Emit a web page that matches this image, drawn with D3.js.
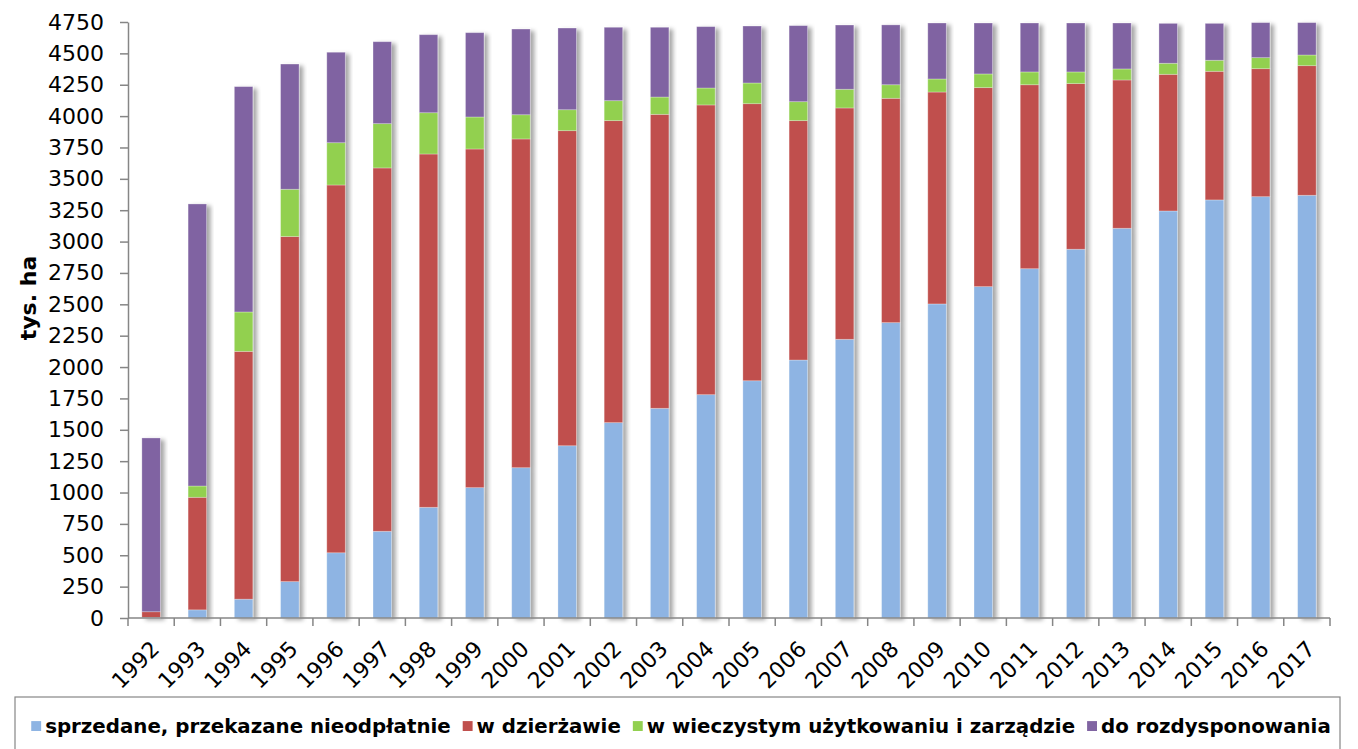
<!DOCTYPE html>
<html>
<head>
<meta charset="utf-8">
<script src="https://cdn.jsdelivr.net/npm/d3@7"></script>
<style>
  body { margin: 0; background: #fff; }
  svg { display: block; font-family: "DejaVu Sans", Verdana, sans-serif; }
  .axis path, .axis line { stroke: #868686; stroke-width: 1.5; }
</style>
</head>
<body>
<svg id="chart" width="1358" height="749"></svg>
<script>
// values, thousand ha
const years = ["1992","1993","1994","1995","1996","1997","1998","1999","2000","2001","2002","2003","2004",
               "2005","2006","2007","2008","2009","2010","2011","2012","2013","2014","2015","2016","2017"];
const sold   = [5, 65, 150, 290, 520, 691, 882, 1039, 1198, 1373, 1557, 1671, 1780,
                1891, 2056, 2221, 2354, 2503, 2641, 2784, 2939, 3106, 3244, 3332, 3358, 3369];
const leased = [45, 897, 1975, 2750, 2931, 2896, 2816, 2699, 2620, 2511, 2407, 2343, 2309,
                2208, 1908, 1844, 1788, 1689, 1586, 1466, 1320, 1182, 1089, 1025, 1020, 1033];
const perpetual = [0, 90, 314, 377, 337, 353, 329, 255, 193, 167, 159, 138, 135,
                   165, 151, 149, 108, 104, 109, 102, 93, 88, 88, 88, 88, 85];
const remaining = [1385, 2248, 1796, 998, 721, 653, 622, 672, 683, 651, 585, 556, 489,
                   454, 606, 512, 477, 446, 406, 390, 390, 366, 318, 294, 279, 258];
const seriesNames = ["sprzedane, przekazane nieodpłatnie", "w dzierżawie",
                     "w wieczystym użytkowaniu i zarządzie", "do rozdysponowania"];
const yTicks = d3.range(0, 4751, 250);

const colors = ["#8EB4E3", "#C0504D", "#92D050", "#8064A2"];
const keys = ["sold", "leased", "perpetual", "remaining"];

let table = years.map(function(y, i) {
    return { year: y, sold: sold[i], leased: leased[i], perpetual: perpetual[i], remaining: remaining[i] };
});

let svg = d3.select('#chart');
let margin = { left: 128, right: 28, top: 22, bottom: 131 };
let width = 1358 - margin.left - margin.right;
let height = 749 - margin.top - margin.bottom;

// bar shadow, cast to the right like the original
let defs = svg.append('defs');
let filt = defs.append('filter').attr('id', 'shadow')
    .attr('x', '-20%').attr('y', '-5%').attr('width', '160%').attr('height', '110%');
filt.append('feDropShadow')
    .attr('dx', 4).attr('dy', 2).attr('stdDeviation', 2.2)
    .attr('flood-color', '#000').attr('flood-opacity', 0.35);

let g = svg.append('g').attr('transform', 'translate(' + margin.left + ',' + margin.top + ')');

let x = d3.scaleBand().domain(years).range([0, width]).paddingInner(0.6).paddingOuter(0.3);
let y = d3.scaleLinear().domain([0, 4750]).range([height, 0]);

let stacked = d3.stack().keys(keys)(table);

// one group per year so the shadow falls on the whole column
let cols = g.append('g').attr('class', 'bars')
    .selectAll('g').data(years).enter()
    .append('g')
    .attr('filter', 'url(#shadow)');

cols.selectAll('rect')
    .data(function(yr, i) { return stacked.map(function(s, k) { return { k: k, v: s[i], year: yr }; }); })
    .enter().append('rect')
    .attr('x', function(d) { return x(d.year); })
    .attr('width', x.bandwidth())
    .attr('y', function(d) { return y(d.v[1]); })
    .attr('height', function(d) { return y(d.v[0]) - y(d.v[1]); })
    .attr('fill', function(d) { return colors[d.k]; })
    .attr('stroke', 'rgba(255,255,255,0.35)')
    .attr('stroke-width', 0.8);

// y axis
let yAxis = g.append('g').attr('class', 'axis')
    .call(d3.axisLeft(y).tickValues(yTicks).tickFormat(d3.format('d'))
        .tickSize(8).tickPadding(16).tickSizeOuter(0));
yAxis.selectAll('text').attr('font-size', 22).attr('fill', '#000')
    .attr('font-family', '"DejaVu Sans", Verdana, sans-serif');

// x axis, ticks on the band boundaries
let xAxis = g.append('g').attr('class', 'axis')
    .attr('transform', 'translate(0,' + height + ')');
xAxis.append('line').attr('x1', 0).attr('x2', width).attr('y1', 0).attr('y2', 0);
xAxis.selectAll('.tk').data(d3.range(years.length + 1)).enter()
    .append('line')
    .attr('x1', function(i) { return i * x.step(); })
    .attr('x2', function(i) { return i * x.step(); })
    .attr('y1', 0).attr('y2', 8);
xAxis.selectAll('.lbl').data(years).enter()
    .append('text')
    .attr('transform', function(d) {
        return 'translate(' + (x(d) + x.bandwidth() / 2 + 4) + ',' + 27 + ') rotate(-45)';
    })
    .attr('text-anchor', 'end')
    .attr('dy', '0.35em')
    .attr('font-size', 22)
    .text(function(d) { return d; });

// y title
svg.append('text')
    .attr('transform', 'translate(36,' + 298 + ') rotate(-90)')
    .attr('text-anchor', 'middle')
    .attr('font-size', 22).attr('font-weight', 'bold')
    .text('tys. ha');

// legend
svg.append('rect')
    .attr('x', 15).attr('y', 697).attr('width', 1325).attr('height', 70)
    .attr('fill', '#fff').attr('stroke', '#868686').attr('stroke-width', 1.2);
let leg = svg.append('g').attr('class', 'legend');
let fs = 18;
let labels = [];
let cursor = 0;
seriesNames.forEach(function(name, k) {
    let item = leg.append('g');
    item.append('rect').attr('fill', colors[k]);
    item.append('text').attr('font-weight', 'bold').text(name);
    labels.push(item);
});
// fit the row to the width the original legend spans
function layoutLegend(size) {
    cursor = 0;
    labels.forEach(function(item) {
        item.attr('transform', 'translate(' + cursor + ',0)');
        let m = size * 0.5;
        item.select('rect').attr('x', 0).attr('y', -m - 2).attr('width', m).attr('height', m);
        let t = item.select('text').attr('x', m + 4).attr('y', 0).attr('font-size', size);
        cursor += m + 4 + t.node().getComputedTextLength() + 12;
    });
    return cursor - 12;
}
let w0 = layoutLegend(fs);
fs = fs * 1305 / w0;
let legWidth = layoutLegend(fs);
leg.attr('transform', 'translate(' + (681 - legWidth / 2) + ',733)');
</script>
</body>
</html>
